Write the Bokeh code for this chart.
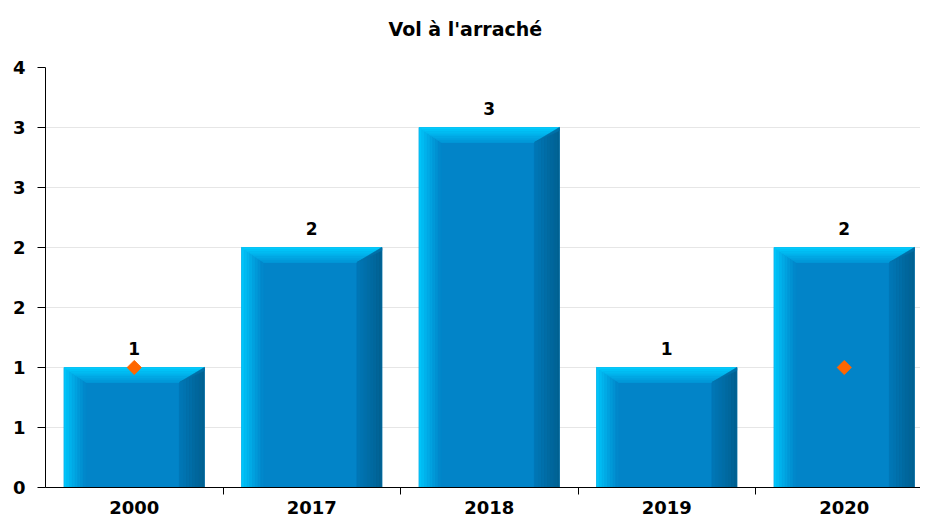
from bokeh.plotting import figure
from bokeh.models import Range1d, FixedTicker, ColumnDataSource, LinearAxis
from bokeh.embed import file_html
from bokeh.resources import INLINE
from bokeh.core.properties import value

# ---- data ----
years = ["2000", "2017", "2018", "2019", "2020"]
counts = [1, 2, 3, 1, 2]
marker_years = ["2000", "2020"]
marker_values = [1, 1]
y_ticks = [0, 0.5, 1, 1.5, 2, 2.5, 3, 3.5]
y_tick_labels = ["0", "1", "1", "2", "2", "3", "3", "4"]
title_text = "Vol à l'arraché"

FONT = "DejaVu Sans"
W, H = 920, 516
ML, MR, MT, MB = 45, 0, 67, 27
FW, FH = W - ML - MR, H - MT - MB
XMAX, YMAX = FW / 177.5, 3.5
px_x = XMAX / FW
px_y = YMAX / FH

p = figure(width=W, height=H, output_backend="svg", toolbar_location=None,
           x_range=Range1d(0, XMAX), y_range=Range1d(0, YMAX),
           min_border_left=ML, min_border_right=MR, min_border_top=MT, min_border_bottom=MB)
p.outline_line_color = None
p.background_fill_color = "white"
p.border_fill_color = "white"

# invisible spacer axis between title and frame (no ticks, no labels)
spacer = LinearAxis(ticker=FixedTicker(ticks=[], minor_ticks=[]), axis_line_color=None,
                    major_tick_line_color=None, minor_tick_line_color=None,
                    axis_label=" ", axis_label_text_font_size="14px",
                    axis_label_standoff=0)
p.add_layout(spacer, "above")

p.title.text = title_text
p.title.align = "left"
p.title.text_font = FONT
p.title.text_font_size = "19px"
p.title.text_font_style = "bold"
p.title.text_color = "#000000"
p.title.standoff = 18
p.title.offset = 343


def hex2rgb(h):
    h = h.lstrip("#")
    return [int(h[i:i + 2], 16) for i in (0, 2, 4)]


def mix(a, b, t):
    ra, rb = hex2rgb(a), hex2rgb(b)
    return "#%02x%02x%02x" % tuple(int(round(ra[i] + (rb[i] - ra[i]) * t)) for i in range(3))


idx = {y: i for i, y in enumerate(years)}
hw = 0.395
bl = 22 * px_x
br = 25 * px_x
bt = 15 * px_y
N = 8
MAIN = "#0284c8"

xs, ys, cols = [], [], []
for yr, v in zip(years, counts):
    c = idx[yr] + 0.5
    L, R = c - hw, c + hw
    # main face
    xs.append([L, R, R, L]); ys.append([0, 0, v, v]); cols.append(MAIN)
    # left bevel strips
    for k in range(N):
        x0 = L + bl * k / N
        x1 = L + bl * (k + 1) / N
        y0 = v - bt * k / N
        y1 = v - bt * (k + 1) / N
        xs.append([x0, x1, x1, x0]); ys.append([0, 0, y1, y0])
        cols.append(mix("#00c8fc", MAIN, (k + 0.5) / N))
    # right bevel strips
    for k in range(N):
        x0 = R - br * k / N
        x1 = R - br * (k + 1) / N
        y0 = v - bt * k / N
        y1 = v - bt * (k + 1) / N
        xs.append([x1, x0, x0, x1]); ys.append([0, 0, y0, y1])
        cols.append(mix("#005f8f", "#0078b8", (k + 0.5) / N))
    # top bevel strips
    for k in range(N):
        t0, t1 = k / N, (k + 1) / N
        ya, yb = v - bt * t0, v - bt * t1
        xs.append([L + bl * t0, R - br * t0, R - br * t1, L + bl * t1])
        ys.append([ya, ya, yb, yb])
        cols.append(mix("#00d0ff", "#0096d8", (k + 0.5) / N))
    # darker top-right corner
    xs.append([R, R - br, R]); ys.append([v, v - bt, v - bt * 0.2]); cols.append("#0070a8")

p.patches(xs=xs, ys=ys, fill_color=cols, line_color=cols, line_width=0.6)

# value labels
src = ColumnDataSource(dict(x=[idx[y] + 0.5 for y in years], y=counts,
                            t=[str(v) for v in counts]))
p.text(x="x", y="y", text="t", source=src, text_align="center", text_baseline="middle",
       y_offset=-19, text_font=value(FONT), text_font_size="17px", text_font_style="bold",
       text_color="#000000")

# orange markers
p.scatter(x=[idx[y] + 0.5 for y in marker_years], y=marker_values, marker="square",
          angle=0.785398, size=10, fill_color="#ff6600", line_color="#ff6600")

# bottom (category) axis only
xa = p.below[0]
xa.ticker = FixedTicker(ticks=[i + 0.5 for i in range(len(years))],
                        minor_ticks=list(range(1, len(years))))
xa.major_label_overrides = {i + 0.5: y for i, y in enumerate(years)}
xa.major_tick_in = 0
xa.major_tick_out = 0
xa.minor_tick_in = 0
xa.minor_tick_out = 7
xa.minor_tick_line_color = "#000000"
xa.axis_line_color = "#000000"
xa.major_label_text_font = FONT
xa.major_label_text_font_size = "18px"
xa.major_label_text_font_style = "bold"
xa.major_label_text_color = "#000000"
xa.major_label_standoff = 6

p.yaxis.ticker = FixedTicker(ticks=y_ticks, minor_ticks=[])
p.yaxis.major_label_overrides = {t: l for t, l in zip(y_ticks, y_tick_labels)}
p.yaxis.major_tick_in = 0
p.yaxis.major_tick_out = 8
p.yaxis.major_tick_line_color = "#000000"
p.yaxis.axis_line_color = "#000000"
p.yaxis.major_label_text_font = FONT
p.yaxis.major_label_text_font_size = "18px"
p.yaxis.major_label_text_font_style = "bold"
p.yaxis.major_label_text_color = "#000000"
p.yaxis.major_label_standoff = 12

p.xgrid.grid_line_color = None
p.ygrid.grid_line_color = "#e6e6e6"
p.ygrid.ticker = FixedTicker(ticks=y_ticks)

open("out.html", "w").write(file_html(p, INLINE))
